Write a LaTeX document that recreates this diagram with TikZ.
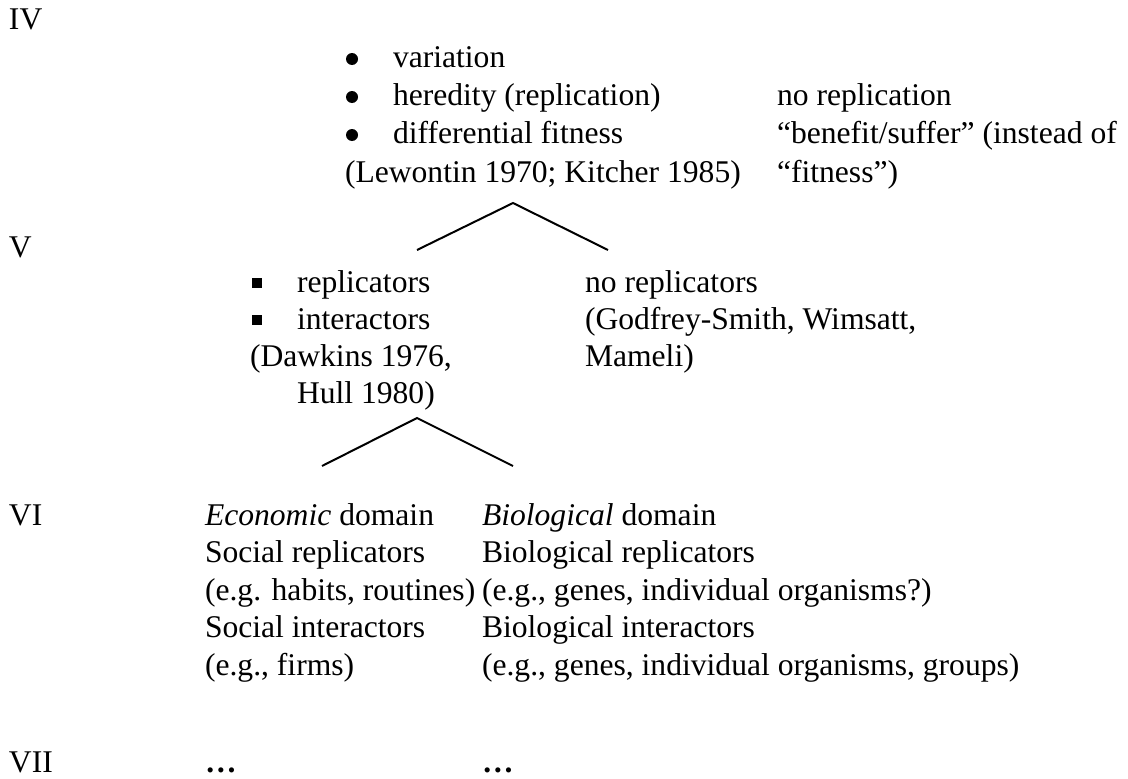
\documentclass[tikz,border=0pt]{standalone}
\usepackage{fontspec}
\setmainfont{Liberation Serif}
\begin{document}
\begin{tikzpicture}[x=1pt,y=-1pt,
  txt/.style={anchor=base west,inner sep=0pt,outer sep=0pt,font=\fontsize{31.6}{38}\selectfont},
  dotbul/.style={circle,fill=black,inner sep=0pt,minimum size=12pt},
  sqbul/.style={rectangle,fill=black,inner sep=0pt,minimum size=10pt},
  wedge/.style={line width=2pt}]
\useasboundingbox (0,0) rectangle (1128,779);
% level labels
\node[txt] (lIV) at (9,29) {IV};
\node[txt] (lV) at (9,257) {V};
\node[txt] (lVI) at (9,525) {VI};
\node[txt] (lVII) at (9,772) {VII};
% level IV
\node[dotbul] (b1) at (352,59) {};
\node[dotbul] (b2) at (352,97) {};
\node[dotbul] (b3) at (352,135) {};
\node[txt] (t1) at (393,67) {variation};
\node[txt] (t2) at (393,105) {heredity (replication)};
\node[txt] (t3) at (393,143) {differential fitness};
\node[txt] (t4) at (345,182) {(Lewontin 1970; Kitcher 1985)};
\node[txt] (r1) at (777,105) {no replication};
\node[txt] (r2) at (777,143) {“benefit/suffer” (instead of};
\node[txt] (r3) at (777,182) {“fitness”)};
% upper wedge
\coordinate (wa) at (513,203);
\coordinate (wl) at (417,250);
\coordinate (wr) at (608,250);
\draw[wedge] (wl) -- (wa) -- (wr);
% level V
\node[sqbul] (s1) at (257,283) {};
\node[sqbul] (s2) at (257,320) {};
\node[txt] (v1) at (297,292) {replicators};
\node[txt] (v2) at (297,329) {interactors};
\node[txt] (v3) at (250,366) {(Dawkins 1976,};
\node[txt] (v4) at (297,403) {Hull 1980)};
\node[txt] (n1) at (585,292) {no replicators};
\node[txt] (n2) at (585,329) {(Godfrey-Smith, Wimsatt,};
\node[txt] (n3) at (585,366) {Mameli)};
% lower wedge
\coordinate (ua) at (417,418);
\coordinate (ul) at (322,466);
\coordinate (ur) at (513,466);
\draw[wedge] (ul) -- (ua) -- (ur);
% level VI
\node[txt] (e1) at (205,525) {\textit{Economic} domain};
\node[txt] (e2) at (205,562.5) {Social replicators};
\node[txt] (e3) at (205,600) {(e.g. habits, routines)};
\node[txt] (e4) at (205,637.5) {Social interactors};
\node[txt] (e5) at (205,675) {(e.g., firms)};
\node[txt] (g1) at (482,525) {\textit{Biological} domain};
\node[txt] (g2) at (482,562.5) {Biological replicators};
\node[txt] (g3) at (482,600) {(e.g., genes, individual organisms?)};
\node[txt] (g4) at (482,637.5) {Biological interactors};
\node[txt] (g5) at (482,675) {(e.g., genes, individual organisms, groups)};
% level VII
\node[txt] (d1) at (205,772) {\textbf{…}};
\node[txt] (d2) at (482,772) {\textbf{…}};
\end{tikzpicture}
\end{document}
